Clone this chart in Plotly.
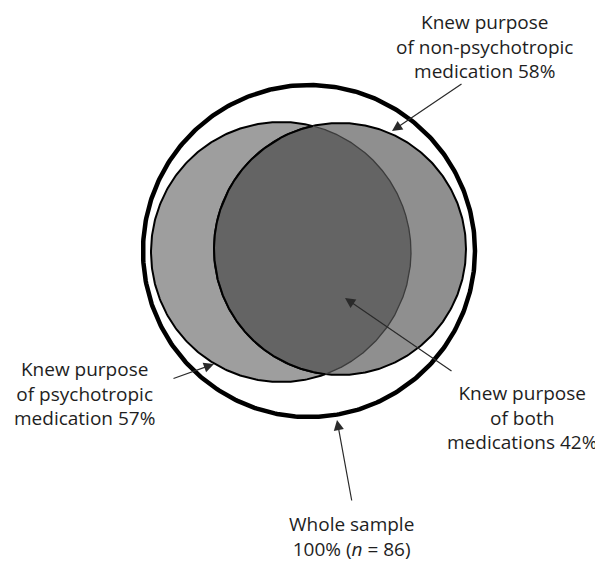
import numpy as np
import plotly.graph_objects as go

# ---- data ----
group_labels = ["Knew purpose<br>of non-psychotropic<br>medication",
                "Knew purpose<br>of psychotropic<br>medication",
                "Knew purpose<br>of both<br>medications",
                "Whole sample"]
group_percents = [58, 57, 42, 100]
sample_n = 86

# ---- geometry (pixel-like data coordinates) ----
W, H = 603, 561
PAD = 8  # default body margin of the html page
outer = (309, 251, 166)
left_c = (281, 252, 130)   # psychotropic
right_c = (340, 249, 126)  # non-psychotropic

def circle_xy(c, n=400):
    t = np.linspace(0, 2 * np.pi, n)
    return c[0] + c[2] * np.cos(t), c[1] + c[2] * np.sin(t)

def inside(x, y, c):
    return (x - c[0]) ** 2 + (y - c[1]) ** 2 <= c[2] ** 2

# intersection lens
tA = np.linspace(-np.pi, np.pi, 4000)
ax_ = left_c[0] + left_c[2] * np.cos(tA)
ay_ = left_c[1] + left_c[2] * np.sin(tA)
mA = inside(ax_, ay_, right_c)
tB = np.linspace(0, 2 * np.pi, 4000)
bx_ = right_c[0] + right_c[2] * np.cos(tB)
by_ = right_c[1] + right_c[2] * np.sin(tB)
mB = inside(bx_, by_, left_c)
lens_x = np.concatenate([ax_[mA], bx_[mB], ax_[mA][:1]])
lens_y = np.concatenate([ay_[mA], by_[mB], ay_[mA][:1]])

fig = go.Figure()

ox, oy = circle_xy(outer)
fig.add_trace(go.Scatter(x=ox, y=oy, mode="lines", fill="toself", fillcolor="white",
                         line=dict(color="black", width=4.5), hoverinfo="skip"))
lx, ly = circle_xy(left_c)
fig.add_trace(go.Scatter(x=lx, y=ly, mode="lines", fill="toself", fillcolor="#9e9e9e",
                         line=dict(color="black", width=2), hoverinfo="skip"))
rx, ry = circle_xy(right_c)
fig.add_trace(go.Scatter(x=rx, y=ry, mode="lines", fill="toself", fillcolor="#8f8f8f",
                         line=dict(color="black", width=2), hoverinfo="skip"))
fig.add_trace(go.Scatter(x=lens_x, y=lens_y, mode="lines", fill="toself", fillcolor="#646464",
                         line=dict(color="#3c3c3c", width=1.3), hoverinfo="skip"))
fig.add_trace(go.Scatter(x=bx_[mB], y=by_[mB], mode="lines",
                         line=dict(color="black", width=2), hoverinfo="skip"))

font = dict(family="Open Sans, Lato, sans-serif", size=19, color="#1e1e1e")

texts = [
    (f"{group_labels[0]} {group_percents[0]}%", 484, 46),
    (f"{group_labels[1]} {group_percents[1]}%", 84, 393),
    (f"{group_labels[2]} {group_percents[2]}%", 522, 417),
    (f"{group_labels[3]}<br>{group_percents[3]}% (<i>n</i> = {sample_n})", 351, 536),
]
for t, x, y in texts:
    fig.add_annotation(x=x, y=y, text=t, showarrow=False, font=font,
                       xanchor="center", yanchor="middle", align="center")

arrows = [
    ((392, 131), (463, 83)),
    ((214, 364), (172, 379)),
    ((345, 298), (453, 372)),
    ((337, 420), (352, 502)),
]
for (tx, ty), (sx, sy) in arrows:
    fig.add_annotation(x=tx, y=ty, ax=sx, ay=sy, axref="x", ayref="y", xref="x", yref="y",
                       text="", showarrow=True, arrowhead=2, arrowsize=1.7,
                       arrowwidth=1.2, arrowcolor="#2a2a2a", standoff=0)

fig.update_layout(width=W - PAD, height=H - PAD, margin=dict(l=0, r=0, t=0, b=0),
                  paper_bgcolor="white", plot_bgcolor="white", showlegend=False,
                  xaxis=dict(range=[PAD, W], visible=False, fixedrange=True),
                  yaxis=dict(range=[H, PAD], visible=False, fixedrange=True))

fig.write_html("out.html")
